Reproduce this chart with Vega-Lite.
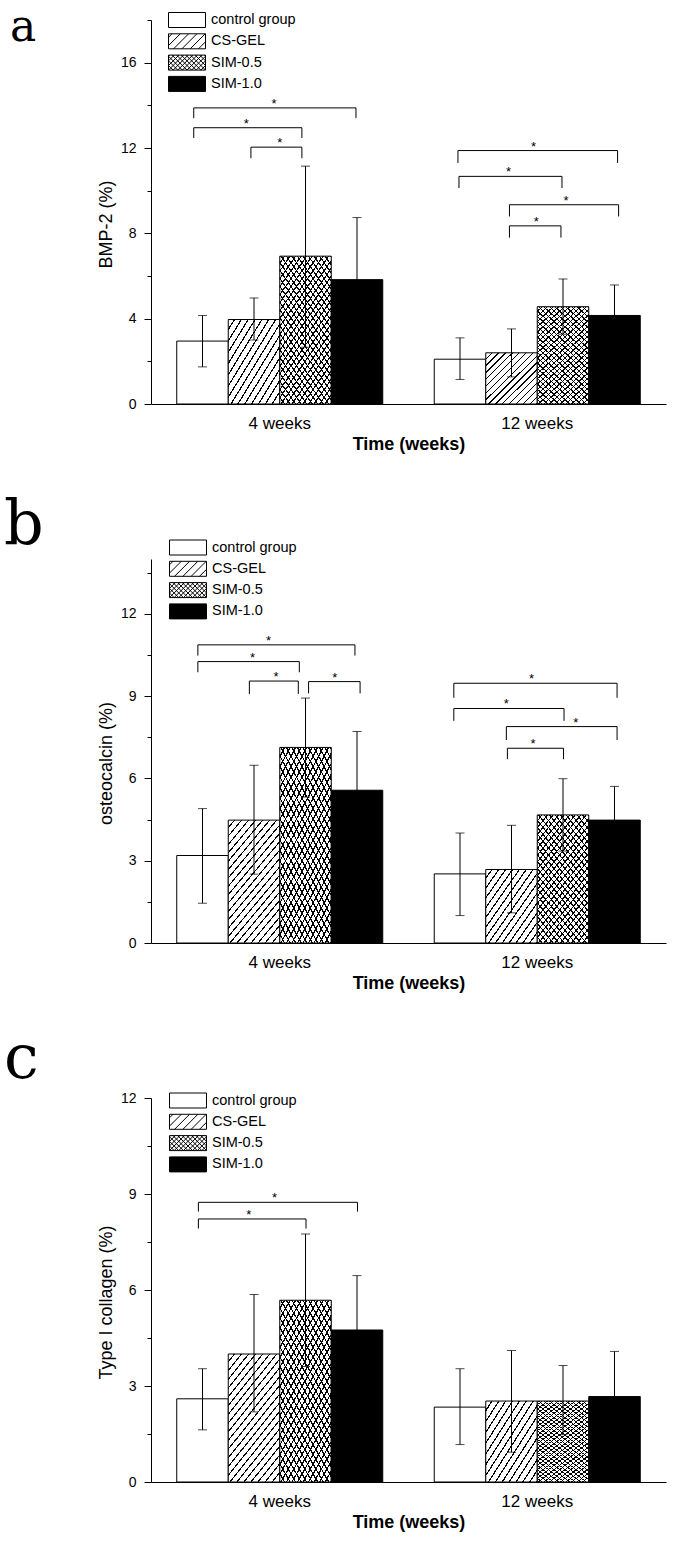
{
  "$schema": "https://vega.github.io/schema/vega-lite/v6.json",
  "padding": {"left": 4, "top": 5, "right": 5, "bottom": 5},
  "datasets": {
    "a": [
      {"time": "4 weeks", "group": "control group", "value": 2.95, "lo": 1.74, "hi": 4.15},
      {"time": "4 weeks", "group": "CS-GEL", "value": 3.96, "lo": 3.0, "hi": 4.97},
      {"time": "4 weeks", "group": "SIM-0.5", "value": 6.93, "lo": 2.66, "hi": 11.15},
      {"time": "4 weeks", "group": "SIM-1.0", "value": 5.83, "lo": 2.92, "hi": 8.74},
      {"time": "12 weeks", "group": "control group", "value": 2.1, "lo": 1.15, "hi": 3.1},
      {"time": "12 weeks", "group": "CS-GEL", "value": 2.4, "lo": 1.27, "hi": 3.52},
      {"time": "12 weeks", "group": "SIM-0.5", "value": 4.56, "lo": 3.27, "hi": 5.86},
      {"time": "12 weeks", "group": "SIM-1.0", "value": 4.15, "lo": 2.72, "hi": 5.58}
    ],
    "a_br": [
      {"b": "a1", "time": "4 weeks", "pos": 0.33, "y": 13.4, "k": 0},
      {"b": "a1", "time": "4 weeks", "pos": 0.33, "y": 13.88, "k": 1},
      {"b": "a1", "time": "4 weeks", "pos": 3.48, "y": 13.88, "k": 2},
      {"b": "a1", "time": "4 weeks", "pos": 3.48, "y": 13.4, "k": 3},
      {"b": "a2", "time": "4 weeks", "pos": 0.33, "y": 12.47, "k": 0},
      {"b": "a2", "time": "4 weeks", "pos": 0.33, "y": 12.95, "k": 1},
      {"b": "a2", "time": "4 weeks", "pos": 2.43, "y": 12.95, "k": 2},
      {"b": "a2", "time": "4 weeks", "pos": 2.43, "y": 12.47, "k": 3},
      {"b": "a3", "time": "4 weeks", "pos": 1.44, "y": 11.52, "k": 0},
      {"b": "a3", "time": "4 weeks", "pos": 1.44, "y": 12.04, "k": 1},
      {"b": "a3", "time": "4 weeks", "pos": 2.43, "y": 12.04, "k": 2},
      {"b": "a3", "time": "4 weeks", "pos": 2.43, "y": 11.52, "k": 3},
      {"b": "a4", "time": "12 weeks", "pos": 0.46, "y": 11.3, "k": 0},
      {"b": "a4", "time": "12 weeks", "pos": 0.46, "y": 11.88, "k": 1},
      {"b": "a4", "time": "12 weeks", "pos": 3.56, "y": 11.88, "k": 2},
      {"b": "a4", "time": "12 weeks", "pos": 3.56, "y": 11.3, "k": 3},
      {"b": "a5", "time": "12 weeks", "pos": 0.48, "y": 10.12, "k": 0},
      {"b": "a5", "time": "12 weeks", "pos": 0.48, "y": 10.67, "k": 1},
      {"b": "a5", "time": "12 weeks", "pos": 2.48, "y": 10.67, "k": 2},
      {"b": "a5", "time": "12 weeks", "pos": 2.48, "y": 10.12, "k": 3},
      {"b": "a6", "time": "12 weeks", "pos": 1.46, "y": 8.79, "k": 0},
      {"b": "a6", "time": "12 weeks", "pos": 1.46, "y": 9.34, "k": 1},
      {"b": "a6", "time": "12 weeks", "pos": 3.58, "y": 9.34, "k": 2},
      {"b": "a6", "time": "12 weeks", "pos": 3.58, "y": 8.79, "k": 3},
      {"b": "a7", "time": "12 weeks", "pos": 1.46, "y": 7.8, "k": 0},
      {"b": "a7", "time": "12 weeks", "pos": 1.46, "y": 8.35, "k": 1},
      {"b": "a7", "time": "12 weeks", "pos": 2.46, "y": 8.35, "k": 2},
      {"b": "a7", "time": "12 weeks", "pos": 2.46, "y": 7.8, "k": 3}
    ],
    "a_st": [
      {"time": "4 weeks", "pos": 1.89, "y": 13.88},
      {"time": "4 weeks", "pos": 1.35, "y": 12.95},
      {"time": "4 weeks", "pos": 2.0, "y": 12.04},
      {"time": "12 weeks", "pos": 1.93, "y": 11.88},
      {"time": "12 weeks", "pos": 1.44, "y": 10.67},
      {"time": "12 weeks", "pos": 2.56, "y": 9.34},
      {"time": "12 weeks", "pos": 1.98, "y": 8.35}
    ],
    "b": [
      {"time": "4 weeks", "group": "control group", "value": 3.19, "lo": 1.45, "hi": 4.9},
      {"time": "4 weeks", "group": "CS-GEL", "value": 4.48, "lo": 2.51, "hi": 6.48},
      {"time": "4 weeks", "group": "SIM-0.5", "value": 7.13, "lo": 5.32, "hi": 8.93},
      {"time": "4 weeks", "group": "SIM-1.0", "value": 5.57, "lo": 3.43, "hi": 7.71},
      {"time": "12 weeks", "group": "control group", "value": 2.52, "lo": 1.0, "hi": 4.01},
      {"time": "12 weeks", "group": "CS-GEL", "value": 2.68, "lo": 1.1, "hi": 4.29},
      {"time": "12 weeks", "group": "SIM-0.5", "value": 4.67, "lo": 3.35, "hi": 5.99},
      {"time": "12 weeks", "group": "SIM-1.0", "value": 4.48, "lo": 3.25, "hi": 5.71}
    ],
    "b_br": [
      {"b": "b1", "time": "4 weeks", "pos": 0.41, "y": 10.48, "k": 0},
      {"b": "b1", "time": "4 weeks", "pos": 0.41, "y": 10.87, "k": 1},
      {"b": "b1", "time": "4 weeks", "pos": 3.46, "y": 10.87, "k": 2},
      {"b": "b1", "time": "4 weeks", "pos": 3.46, "y": 10.48, "k": 3},
      {"b": "b2", "time": "4 weeks", "pos": 0.41, "y": 9.87, "k": 0},
      {"b": "b2", "time": "4 weeks", "pos": 0.41, "y": 10.26, "k": 1},
      {"b": "b2", "time": "4 weeks", "pos": 2.38, "y": 10.26, "k": 2},
      {"b": "b2", "time": "4 weeks", "pos": 2.38, "y": 9.87, "k": 3},
      {"b": "b3", "time": "4 weeks", "pos": 1.41, "y": 9.08, "k": 0},
      {"b": "b3", "time": "4 weeks", "pos": 1.41, "y": 9.55, "k": 1},
      {"b": "b3", "time": "4 weeks", "pos": 2.36, "y": 9.55, "k": 2},
      {"b": "b3", "time": "4 weeks", "pos": 2.36, "y": 9.08, "k": 3},
      {"b": "b4", "time": "4 weeks", "pos": 2.56, "y": 9.1, "k": 0},
      {"b": "b4", "time": "4 weeks", "pos": 2.56, "y": 9.53, "k": 1},
      {"b": "b4", "time": "4 weeks", "pos": 3.56, "y": 9.53, "k": 2},
      {"b": "b4", "time": "4 weeks", "pos": 3.56, "y": 9.1, "k": 3},
      {"b": "b5", "time": "12 weeks", "pos": 0.38, "y": 8.94, "k": 0},
      {"b": "b5", "time": "12 weeks", "pos": 0.38, "y": 9.47, "k": 1},
      {"b": "b5", "time": "12 weeks", "pos": 3.55, "y": 9.47, "k": 2},
      {"b": "b5", "time": "12 weeks", "pos": 3.55, "y": 8.94, "k": 3},
      {"b": "b6", "time": "12 weeks", "pos": 0.38, "y": 8.1, "k": 0},
      {"b": "b6", "time": "12 weeks", "pos": 0.38, "y": 8.55, "k": 1},
      {"b": "b6", "time": "12 weeks", "pos": 2.52, "y": 8.55, "k": 2},
      {"b": "b6", "time": "12 weeks", "pos": 2.52, "y": 8.1, "k": 3},
      {"b": "b7", "time": "12 weeks", "pos": 1.4, "y": 7.4, "k": 0},
      {"b": "b7", "time": "12 weeks", "pos": 1.4, "y": 7.89, "k": 1},
      {"b": "b7", "time": "12 weeks", "pos": 3.55, "y": 7.89, "k": 2},
      {"b": "b7", "time": "12 weeks", "pos": 3.55, "y": 7.4, "k": 3},
      {"b": "b8", "time": "12 weeks", "pos": 1.42, "y": 6.7, "k": 0},
      {"b": "b8", "time": "12 weeks", "pos": 1.42, "y": 7.1, "k": 1},
      {"b": "b8", "time": "12 weeks", "pos": 2.51, "y": 7.1, "k": 2},
      {"b": "b8", "time": "12 weeks", "pos": 2.51, "y": 6.7, "k": 3}
    ],
    "b_st": [
      {"time": "4 weeks", "pos": 1.78, "y": 10.87},
      {"time": "4 weeks", "pos": 1.47, "y": 10.26},
      {"time": "4 weeks", "pos": 1.93, "y": 9.55},
      {"time": "4 weeks", "pos": 3.07, "y": 9.53},
      {"time": "12 weeks", "pos": 1.89, "y": 9.47},
      {"time": "12 weeks", "pos": 1.4, "y": 8.55},
      {"time": "12 weeks", "pos": 2.75, "y": 7.89},
      {"time": "12 weeks", "pos": 1.92, "y": 7.1}
    ],
    "c": [
      {"time": "4 weeks", "group": "control group", "value": 2.6, "lo": 1.63, "hi": 3.54},
      {"time": "4 weeks", "group": "CS-GEL", "value": 4.0, "lo": 2.19, "hi": 5.86},
      {"time": "4 weeks", "group": "SIM-0.5", "value": 5.68, "lo": 3.61, "hi": 7.75},
      {"time": "4 weeks", "group": "SIM-1.0", "value": 4.75, "lo": 3.05, "hi": 6.45},
      {"time": "12 weeks", "group": "control group", "value": 2.34, "lo": 1.17, "hi": 3.54},
      {"time": "12 weeks", "group": "CS-GEL", "value": 2.53, "lo": 0.93, "hi": 4.11},
      {"time": "12 weeks", "group": "SIM-0.5", "value": 2.53, "lo": 1.48, "hi": 3.64},
      {"time": "12 weeks", "group": "SIM-1.0", "value": 2.67, "lo": 1.26, "hi": 4.08}
    ],
    "c_br": [
      {"b": "c1", "time": "4 weeks", "pos": 0.42, "y": 8.45, "k": 0},
      {"b": "c1", "time": "4 weeks", "pos": 0.42, "y": 8.74, "k": 1},
      {"b": "c1", "time": "4 weeks", "pos": 3.51, "y": 8.74, "k": 2},
      {"b": "c1", "time": "4 weeks", "pos": 3.51, "y": 8.45, "k": 3},
      {"b": "c2", "time": "4 weeks", "pos": 0.42, "y": 7.92, "k": 0},
      {"b": "c2", "time": "4 weeks", "pos": 0.42, "y": 8.22, "k": 1},
      {"b": "c2", "time": "4 weeks", "pos": 2.51, "y": 8.22, "k": 2},
      {"b": "c2", "time": "4 weeks", "pos": 2.51, "y": 7.92, "k": 3}
    ],
    "c_st": [
      {"time": "4 weeks", "pos": 1.9, "y": 8.74},
      {"time": "4 weeks", "pos": 1.4, "y": 8.22}
    ]
  },
  "vconcat": [
    {
      "title": {"text": "a", "dx": -141, "dy": 41.5, "fontSize": 44},
      "width": 515,
      "height": 384,
      "resolve": {"scale": {"xOffset": "independent"}},
      "layer": [
        {
          "data": {"name": "a"},
          "mark": {"type": "bar", "stroke": "black", "strokeWidth": 1},
          "encoding": {
            "x": {"field": "time", "type": "nominal", "sort": ["4 weeks", "12 weeks"], "scale": {"paddingInner": 0.2, "paddingOuter": 0.1}, "title": "Time (weeks)", "axis": {"labelAngle": 0, "ticks": false, "tickSize": 0}},
            "xOffset": {"field": "group", "type": "nominal", "scale": {"domain": ["control group", "CS-GEL", "SIM-0.5", "SIM-1.0"], "paddingInner": 0, "paddingOuter": 0}},
            "y": {"field": "value", "type": "quantitative", "scale": {"domain": [0, 18], "nice": false}, "title": "BMP-2 (%)", "axis": {"values": [0, 2, 4, 6, 8, 10, 12, 14, 16, 18], "labelExpr": "datum.value % 4 === 0 ? datum.label : ''", "tickSize": {"condition": {"test": "datum.value % 4 === 0", "value": 7}, "value": 4}, "titleY": 204}},
            "fill": {"condition": {"test": "datum.group === 'SIM-1.0'", "value": "black"}, "value": "white"}
          }
        },
        {
          "data": {"name": "a"},
          "transform": [{"filter": "datum.group === 'CS-GEL'"}],
          "mark": {"type": "bar", "style": "hatchS"},
          "encoding": {
            "x": {"field": "time", "type": "nominal", "sort": ["4 weeks", "12 weeks"]},
            "xOffset": {"field": "group", "type": "nominal", "scale": {"domain": ["control group", "CS-GEL", "SIM-0.5", "SIM-1.0"], "paddingInner": 0, "paddingOuter": 0}},
            "y": {"field": "value", "type": "quantitative", "scale": {"domain": [0, 18], "nice": false}}
          }
        },
        {
          "data": {"name": "a"},
          "transform": [{"filter": "datum.group === 'SIM-0.5'"}],
          "mark": {"type": "bar", "style": "crossa"},
          "encoding": {
            "x": {"field": "time", "type": "nominal", "sort": ["4 weeks", "12 weeks"]},
            "xOffset": {"field": "group", "type": "nominal", "scale": {"domain": ["control group", "CS-GEL", "SIM-0.5", "SIM-1.0"], "paddingInner": 0, "paddingOuter": 0}},
            "y": {"field": "value", "type": "quantitative", "scale": {"domain": [0, 18], "nice": false}}
          }
        },
        {
          "data": {"name": "a"},
          "transform": [{"filter": "datum.group === 'SIM-0.5'"}],
          "mark": {"type": "bar", "style": "crossb"},
          "encoding": {
            "x": {"field": "time", "type": "nominal", "sort": ["4 weeks", "12 weeks"]},
            "xOffset": {"field": "group", "type": "nominal", "scale": {"domain": ["control group", "CS-GEL", "SIM-0.5", "SIM-1.0"], "paddingInner": 0, "paddingOuter": 0}},
            "y": {"field": "value", "type": "quantitative", "scale": {"domain": [0, 18], "nice": false}}
          }
        },
        {
          "data": {"name": "a"},
          "mark": {"type": "rule", "color": "black", "strokeWidth": 1},
          "encoding": {
            "x": {"field": "time", "type": "nominal", "sort": ["4 weeks", "12 weeks"]},
            "xOffset": {"field": "group", "type": "nominal", "scale": {"domain": ["control group", "CS-GEL", "SIM-0.5", "SIM-1.0"], "paddingInner": 0, "paddingOuter": 0}},
            "y": {"field": "lo", "type": "quantitative", "scale": {"domain": [0, 18], "nice": false}},
            "y2": {"field": "hi"}
          }
        },
        {
          "data": {"name": "a"},
          "mark": {"type": "tick", "orient": "horizontal", "color": "black", "size": 9, "thickness": 1},
          "encoding": {
            "x": {"field": "time", "type": "nominal", "sort": ["4 weeks", "12 weeks"]},
            "xOffset": {"field": "group", "type": "nominal", "scale": {"domain": ["control group", "CS-GEL", "SIM-0.5", "SIM-1.0"], "paddingInner": 0, "paddingOuter": 0}},
            "y": {"field": "hi", "type": "quantitative", "scale": {"domain": [0, 18], "nice": false}}
          }
        },
        {
          "data": {"name": "a"},
          "mark": {"type": "tick", "orient": "horizontal", "color": "black", "size": 9, "thickness": 1},
          "encoding": {
            "x": {"field": "time", "type": "nominal", "sort": ["4 weeks", "12 weeks"]},
            "xOffset": {"field": "group", "type": "nominal", "scale": {"domain": ["control group", "CS-GEL", "SIM-0.5", "SIM-1.0"], "paddingInner": 0, "paddingOuter": 0}},
            "y": {"field": "lo", "type": "quantitative", "scale": {"domain": [0, 18], "nice": false}}
          }
        },
        {
          "data": {"name": "a_br"},
          "mark": {"type": "line", "color": "black", "strokeWidth": 1},
          "encoding": {
            "x": {"field": "time", "type": "nominal", "sort": ["4 weeks", "12 weeks"]},
            "xOffset": {"field": "pos", "type": "quantitative", "scale": {"domain": [0, 4], "nice": false, "zero": false}},
            "y": {"field": "y", "type": "quantitative", "scale": {"domain": [0, 18], "nice": false}},
            "detail": {"field": "b"},
            "order": {"field": "k"}
          }
        },
        {
          "data": {"name": "a_st"},
          "mark": {"type": "text", "text": "*", "fontSize": 13, "font": "Liberation Sans", "baseline": "alphabetic", "color": "black"},
          "encoding": {
            "x": {"field": "time", "type": "nominal", "sort": ["4 weeks", "12 weeks"]},
            "xOffset": {"field": "pos", "type": "quantitative", "scale": {"domain": [0, 4], "nice": false, "zero": false}},
            "y": {"field": "y", "type": "quantitative", "scale": {"domain": [0, 18], "nice": false}}
          }
        },
        {
          "data": {"name": "a"},
          "mark": {"type": "point", "filled": true, "opacity": 0, "stroke": "black", "strokeWidth": 1},
          "encoding": {
            "x": {"field": "time", "type": "nominal", "sort": ["4 weeks", "12 weeks"]},
            "xOffset": {"field": "group", "type": "nominal", "scale": {"domain": ["control group", "CS-GEL", "SIM-0.5", "SIM-1.0"], "paddingInner": 0, "paddingOuter": 0}},
            "y": {"field": "value", "type": "quantitative", "scale": {"domain": [0, 18], "nice": false}},
            "fill": {"field": "group", "type": "nominal", "scale": {"domain": ["control group", "CS-GEL", "SIM-0.5", "SIM-1.0"], "range": ["white", "white", "white", "black"]}, "legend": {"orient": "none", "legendX": 28, "legendY": -8, "title": null, "symbolFillColor": "white"}},
            "shape": {"field": "group", "type": "nominal", "scale": {"domain": ["control group", "CS-GEL", "SIM-0.5", "SIM-1.0"], "range": ["M-2.4667,-1H2.4667V1H-2.4667Z", "M-2.4667,-1H2.4667V1H-2.4667Z M-2.4667,-0.5333L-2,-1 M-2.4667,0.5733L-0.8933,-1 M-1.7867,1L0.2133,-1 M-0.68,1L1.32,-1 M0.4267,1L2.4267,-1 M1.5333,1L2.4667,0.0667", "M-2.4667,-1H2.4667V1H-2.4667Z M-2.4667,-0.85L-2.3167,-1 M-2.4667,-0.2333L-1.7,-1 M-2.4667,0.3833L-1.0833,-1 M-2.4667,1L-0.4667,-1 M-1.85,1L0.15,-1 M-1.2333,1L0.7667,-1 M-0.6167,1L1.3833,-1 M0,1L2,-1 M0.6167,1L2.4667,-0.85 M1.2333,1L2.4667,-0.2333 M1.85,1L2.4667,0.3833 M2.4667,-0.85L2.3167,-1 M2.4667,-0.2333L1.7,-1 M2.4667,0.3833L1.0833,-1 M2.4667,1L0.4667,-1 M1.85,1L-0.15,-1 M1.2333,1L-0.7667,-1 M0.6167,1L-1.3833,-1 M0,1L-2,-1 M-0.6167,1L-2.4667,-0.85 M-1.2333,1L-2.4667,-0.2333 M-1.85,1L-2.4667,0.3833", "M-2.4667,-1H2.4667V1H-2.4667Z"]}, "legend": {"orient": "none", "legendX": 28, "legendY": -8, "title": null, "symbolFillColor": "white"}}
          }
        }
      ]
    },
    {
      "title": {"text": "b", "dx": -147, "dy": 21.5},
      "width": 515,
      "height": 384,
      "resolve": {"scale": {"xOffset": "independent"}},
      "layer": [
        {
          "data": {"name": "b"},
          "mark": {"type": "bar", "stroke": "black", "strokeWidth": 1},
          "encoding": {
            "x": {"field": "time", "type": "nominal", "sort": ["4 weeks", "12 weeks"], "scale": {"paddingInner": 0.2, "paddingOuter": 0.1}, "title": "Time (weeks)", "axis": {"labelAngle": 0, "ticks": false, "tickSize": 0}},
            "xOffset": {"field": "group", "type": "nominal", "scale": {"domain": ["control group", "CS-GEL", "SIM-0.5", "SIM-1.0"], "paddingInner": 0, "paddingOuter": 0}},
            "y": {"field": "value", "type": "quantitative", "scale": {"domain": [0, 14], "nice": false}, "title": "osteocalcin (%)", "axis": {"values": [0, 1.5, 3, 4.5, 6, 7.5, 9, 10.5, 12, 13.5], "labelExpr": "datum.value % 3 === 0 ? datum.label : ''", "tickSize": {"condition": {"test": "datum.value % 3 === 0", "value": 7}, "value": 4}, "titleY": 204}},
            "fill": {"condition": {"test": "datum.group === 'SIM-1.0'", "value": "black"}, "value": "white"}
          }
        },
        {
          "data": {"name": "b"},
          "transform": [{"filter": "datum.group === 'CS-GEL' && datum.value < 3.5"}],
          "mark": {"type": "bar", "style": "hatchS"},
          "encoding": {
            "x": {"field": "time", "type": "nominal", "sort": ["4 weeks", "12 weeks"]},
            "xOffset": {"field": "group", "type": "nominal", "scale": {"domain": ["control group", "CS-GEL", "SIM-0.5", "SIM-1.0"], "paddingInner": 0, "paddingOuter": 0}},
            "y": {"field": "value", "type": "quantitative", "scale": {"domain": [0, 14], "nice": false}}
          }
        },
        {
          "data": {"name": "b"},
          "transform": [{"filter": "datum.group === 'CS-GEL' && datum.value >= 3.5"}],
          "mark": {"type": "bar", "style": "hatch"},
          "encoding": {
            "x": {"field": "time", "type": "nominal", "sort": ["4 weeks", "12 weeks"]},
            "xOffset": {"field": "group", "type": "nominal", "scale": {"domain": ["control group", "CS-GEL", "SIM-0.5", "SIM-1.0"], "paddingInner": 0, "paddingOuter": 0}},
            "y": {"field": "value", "type": "quantitative", "scale": {"domain": [0, 14], "nice": false}}
          }
        },
        {
          "data": {"name": "b"},
          "transform": [{"filter": "datum.group === 'SIM-0.5'"}],
          "mark": {"type": "bar", "style": "crossa"},
          "encoding": {
            "x": {"field": "time", "type": "nominal", "sort": ["4 weeks", "12 weeks"]},
            "xOffset": {"field": "group", "type": "nominal", "scale": {"domain": ["control group", "CS-GEL", "SIM-0.5", "SIM-1.0"], "paddingInner": 0, "paddingOuter": 0}},
            "y": {"field": "value", "type": "quantitative", "scale": {"domain": [0, 14], "nice": false}}
          }
        },
        {
          "data": {"name": "b"},
          "transform": [{"filter": "datum.group === 'SIM-0.5'"}],
          "mark": {"type": "bar", "style": "crossb"},
          "encoding": {
            "x": {"field": "time", "type": "nominal", "sort": ["4 weeks", "12 weeks"]},
            "xOffset": {"field": "group", "type": "nominal", "scale": {"domain": ["control group", "CS-GEL", "SIM-0.5", "SIM-1.0"], "paddingInner": 0, "paddingOuter": 0}},
            "y": {"field": "value", "type": "quantitative", "scale": {"domain": [0, 14], "nice": false}}
          }
        },
        {
          "data": {"name": "b"},
          "mark": {"type": "rule", "color": "black", "strokeWidth": 1},
          "encoding": {
            "x": {"field": "time", "type": "nominal", "sort": ["4 weeks", "12 weeks"]},
            "xOffset": {"field": "group", "type": "nominal", "scale": {"domain": ["control group", "CS-GEL", "SIM-0.5", "SIM-1.0"], "paddingInner": 0, "paddingOuter": 0}},
            "y": {"field": "lo", "type": "quantitative", "scale": {"domain": [0, 14], "nice": false}},
            "y2": {"field": "hi"}
          }
        },
        {
          "data": {"name": "b"},
          "mark": {"type": "tick", "orient": "horizontal", "color": "black", "size": 9, "thickness": 1},
          "encoding": {
            "x": {"field": "time", "type": "nominal", "sort": ["4 weeks", "12 weeks"]},
            "xOffset": {"field": "group", "type": "nominal", "scale": {"domain": ["control group", "CS-GEL", "SIM-0.5", "SIM-1.0"], "paddingInner": 0, "paddingOuter": 0}},
            "y": {"field": "hi", "type": "quantitative", "scale": {"domain": [0, 14], "nice": false}}
          }
        },
        {
          "data": {"name": "b"},
          "mark": {"type": "tick", "orient": "horizontal", "color": "black", "size": 9, "thickness": 1},
          "encoding": {
            "x": {"field": "time", "type": "nominal", "sort": ["4 weeks", "12 weeks"]},
            "xOffset": {"field": "group", "type": "nominal", "scale": {"domain": ["control group", "CS-GEL", "SIM-0.5", "SIM-1.0"], "paddingInner": 0, "paddingOuter": 0}},
            "y": {"field": "lo", "type": "quantitative", "scale": {"domain": [0, 14], "nice": false}}
          }
        },
        {
          "data": {"name": "b_br"},
          "mark": {"type": "line", "color": "black", "strokeWidth": 1},
          "encoding": {
            "x": {"field": "time", "type": "nominal", "sort": ["4 weeks", "12 weeks"]},
            "xOffset": {"field": "pos", "type": "quantitative", "scale": {"domain": [0, 4], "nice": false, "zero": false}},
            "y": {"field": "y", "type": "quantitative", "scale": {"domain": [0, 14], "nice": false}},
            "detail": {"field": "b"},
            "order": {"field": "k"}
          }
        },
        {
          "data": {"name": "b_st"},
          "mark": {"type": "text", "text": "*", "fontSize": 13, "font": "Liberation Sans", "baseline": "alphabetic", "color": "black"},
          "encoding": {
            "x": {"field": "time", "type": "nominal", "sort": ["4 weeks", "12 weeks"]},
            "xOffset": {"field": "pos", "type": "quantitative", "scale": {"domain": [0, 4], "nice": false, "zero": false}},
            "y": {"field": "y", "type": "quantitative", "scale": {"domain": [0, 14], "nice": false}}
          }
        },
        {
          "data": {"name": "b"},
          "mark": {"type": "point", "filled": true, "opacity": 0, "stroke": "black", "strokeWidth": 1},
          "encoding": {
            "x": {"field": "time", "type": "nominal", "sort": ["4 weeks", "12 weeks"]},
            "xOffset": {"field": "group", "type": "nominal", "scale": {"domain": ["control group", "CS-GEL", "SIM-0.5", "SIM-1.0"], "paddingInner": 0, "paddingOuter": 0}},
            "y": {"field": "value", "type": "quantitative", "scale": {"domain": [0, 14], "nice": false}},
            "fill": {"field": "group", "type": "nominal", "scale": {"domain": ["control group", "CS-GEL", "SIM-0.5", "SIM-1.0"], "range": ["white", "white", "white", "black"]}, "legend": {"orient": "none", "legendX": 29, "legendY": -19.5, "title": null, "symbolFillColor": "white"}},
            "shape": {"field": "group", "type": "nominal", "scale": {"domain": ["control group", "CS-GEL", "SIM-0.5", "SIM-1.0"], "range": ["M-2.4667,-1H2.4667V1H-2.4667Z", "M-2.4667,-1H2.4667V1H-2.4667Z M-2.4667,-0.5333L-2,-1 M-2.4667,0.5733L-0.8933,-1 M-1.7867,1L0.2133,-1 M-0.68,1L1.32,-1 M0.4267,1L2.4267,-1 M1.5333,1L2.4667,0.0667", "M-2.4667,-1H2.4667V1H-2.4667Z M-2.4667,-0.85L-2.3167,-1 M-2.4667,-0.2333L-1.7,-1 M-2.4667,0.3833L-1.0833,-1 M-2.4667,1L-0.4667,-1 M-1.85,1L0.15,-1 M-1.2333,1L0.7667,-1 M-0.6167,1L1.3833,-1 M0,1L2,-1 M0.6167,1L2.4667,-0.85 M1.2333,1L2.4667,-0.2333 M1.85,1L2.4667,0.3833 M2.4667,-0.85L2.3167,-1 M2.4667,-0.2333L1.7,-1 M2.4667,0.3833L1.0833,-1 M2.4667,1L0.4667,-1 M1.85,1L-0.15,-1 M1.2333,1L-0.7667,-1 M0.6167,1L-1.3833,-1 M0,1L-2,-1 M-0.6167,1L-2.4667,-0.85 M-1.2333,1L-2.4667,-0.2333 M-1.85,1L-2.4667,0.3833", "M-2.4667,-1H2.4667V1H-2.4667Z"]}, "legend": {"orient": "none", "legendX": 29, "legendY": -19.5, "title": null, "symbolFillColor": "white"}}
          }
        }
      ]
    },
    {
      "title": {"text": "c", "dx": -147, "dy": 4},
      "width": 515,
      "height": 384,
      "resolve": {"scale": {"xOffset": "independent"}},
      "layer": [
        {
          "data": {"name": "c"},
          "mark": {"type": "bar", "stroke": "black", "strokeWidth": 1},
          "encoding": {
            "x": {"field": "time", "type": "nominal", "sort": ["4 weeks", "12 weeks"], "scale": {"paddingInner": 0.2, "paddingOuter": 0.1}, "title": "Time (weeks)", "axis": {"labelAngle": 0, "ticks": false, "tickSize": 0}},
            "xOffset": {"field": "group", "type": "nominal", "scale": {"domain": ["control group", "CS-GEL", "SIM-0.5", "SIM-1.0"], "paddingInner": 0, "paddingOuter": 0}},
            "y": {"field": "value", "type": "quantitative", "scale": {"domain": [0, 12], "nice": false}, "title": "Type I collagen (%)", "axis": {"values": [0, 1.5, 3, 4.5, 6, 7.5, 9, 10.5, 12], "labelExpr": "datum.value % 3 === 0 ? datum.label : ''", "tickSize": {"condition": {"test": "datum.value % 3 === 0", "value": 7}, "value": 4}, "titleY": 204}},
            "fill": {"condition": {"test": "datum.group === 'SIM-1.0'", "value": "black"}, "value": "white"}
          }
        },
        {
          "data": {"name": "c"},
          "transform": [{"filter": "datum.group === 'CS-GEL' && datum.value < 3.5"}],
          "mark": {"type": "bar", "style": "hatchS"},
          "encoding": {
            "x": {"field": "time", "type": "nominal", "sort": ["4 weeks", "12 weeks"]},
            "xOffset": {"field": "group", "type": "nominal", "scale": {"domain": ["control group", "CS-GEL", "SIM-0.5", "SIM-1.0"], "paddingInner": 0, "paddingOuter": 0}},
            "y": {"field": "value", "type": "quantitative", "scale": {"domain": [0, 12], "nice": false}}
          }
        },
        {
          "data": {"name": "c"},
          "transform": [{"filter": "datum.group === 'CS-GEL' && datum.value >= 3.5"}],
          "mark": {"type": "bar", "style": "hatch"},
          "encoding": {
            "x": {"field": "time", "type": "nominal", "sort": ["4 weeks", "12 weeks"]},
            "xOffset": {"field": "group", "type": "nominal", "scale": {"domain": ["control group", "CS-GEL", "SIM-0.5", "SIM-1.0"], "paddingInner": 0, "paddingOuter": 0}},
            "y": {"field": "value", "type": "quantitative", "scale": {"domain": [0, 12], "nice": false}}
          }
        },
        {
          "data": {"name": "c"},
          "transform": [{"filter": "datum.group === 'SIM-0.5'"}],
          "mark": {"type": "bar", "style": "crossa"},
          "encoding": {
            "x": {"field": "time", "type": "nominal", "sort": ["4 weeks", "12 weeks"]},
            "xOffset": {"field": "group", "type": "nominal", "scale": {"domain": ["control group", "CS-GEL", "SIM-0.5", "SIM-1.0"], "paddingInner": 0, "paddingOuter": 0}},
            "y": {"field": "value", "type": "quantitative", "scale": {"domain": [0, 12], "nice": false}}
          }
        },
        {
          "data": {"name": "c"},
          "transform": [{"filter": "datum.group === 'SIM-0.5'"}],
          "mark": {"type": "bar", "style": "crossb"},
          "encoding": {
            "x": {"field": "time", "type": "nominal", "sort": ["4 weeks", "12 weeks"]},
            "xOffset": {"field": "group", "type": "nominal", "scale": {"domain": ["control group", "CS-GEL", "SIM-0.5", "SIM-1.0"], "paddingInner": 0, "paddingOuter": 0}},
            "y": {"field": "value", "type": "quantitative", "scale": {"domain": [0, 12], "nice": false}}
          }
        },
        {
          "data": {"name": "c"},
          "mark": {"type": "rule", "color": "black", "strokeWidth": 1},
          "encoding": {
            "x": {"field": "time", "type": "nominal", "sort": ["4 weeks", "12 weeks"]},
            "xOffset": {"field": "group", "type": "nominal", "scale": {"domain": ["control group", "CS-GEL", "SIM-0.5", "SIM-1.0"], "paddingInner": 0, "paddingOuter": 0}},
            "y": {"field": "lo", "type": "quantitative", "scale": {"domain": [0, 12], "nice": false}},
            "y2": {"field": "hi"}
          }
        },
        {
          "data": {"name": "c"},
          "mark": {"type": "tick", "orient": "horizontal", "color": "black", "size": 9, "thickness": 1},
          "encoding": {
            "x": {"field": "time", "type": "nominal", "sort": ["4 weeks", "12 weeks"]},
            "xOffset": {"field": "group", "type": "nominal", "scale": {"domain": ["control group", "CS-GEL", "SIM-0.5", "SIM-1.0"], "paddingInner": 0, "paddingOuter": 0}},
            "y": {"field": "hi", "type": "quantitative", "scale": {"domain": [0, 12], "nice": false}}
          }
        },
        {
          "data": {"name": "c"},
          "mark": {"type": "tick", "orient": "horizontal", "color": "black", "size": 9, "thickness": 1},
          "encoding": {
            "x": {"field": "time", "type": "nominal", "sort": ["4 weeks", "12 weeks"]},
            "xOffset": {"field": "group", "type": "nominal", "scale": {"domain": ["control group", "CS-GEL", "SIM-0.5", "SIM-1.0"], "paddingInner": 0, "paddingOuter": 0}},
            "y": {"field": "lo", "type": "quantitative", "scale": {"domain": [0, 12], "nice": false}}
          }
        },
        {
          "data": {"name": "c_br"},
          "mark": {"type": "line", "color": "black", "strokeWidth": 1},
          "encoding": {
            "x": {"field": "time", "type": "nominal", "sort": ["4 weeks", "12 weeks"]},
            "xOffset": {"field": "pos", "type": "quantitative", "scale": {"domain": [0, 4], "nice": false, "zero": false}},
            "y": {"field": "y", "type": "quantitative", "scale": {"domain": [0, 12], "nice": false}},
            "detail": {"field": "b"},
            "order": {"field": "k"}
          }
        },
        {
          "data": {"name": "c_st"},
          "mark": {"type": "text", "text": "*", "fontSize": 13, "font": "Liberation Sans", "baseline": "alphabetic", "color": "black"},
          "encoding": {
            "x": {"field": "time", "type": "nominal", "sort": ["4 weeks", "12 weeks"]},
            "xOffset": {"field": "pos", "type": "quantitative", "scale": {"domain": [0, 4], "nice": false, "zero": false}},
            "y": {"field": "y", "type": "quantitative", "scale": {"domain": [0, 12], "nice": false}}
          }
        },
        {
          "data": {"name": "c"},
          "mark": {"type": "point", "filled": true, "opacity": 0, "stroke": "black", "strokeWidth": 1},
          "encoding": {
            "x": {"field": "time", "type": "nominal", "sort": ["4 weeks", "12 weeks"]},
            "xOffset": {"field": "group", "type": "nominal", "scale": {"domain": ["control group", "CS-GEL", "SIM-0.5", "SIM-1.0"], "paddingInner": 0, "paddingOuter": 0}},
            "y": {"field": "value", "type": "quantitative", "scale": {"domain": [0, 12], "nice": false}},
            "fill": {"field": "group", "type": "nominal", "scale": {"domain": ["control group", "CS-GEL", "SIM-0.5", "SIM-1.0"], "range": ["white", "white", "white", "black"]}, "legend": {"orient": "none", "legendX": 29, "legendY": -5.5, "title": null, "symbolFillColor": "white"}},
            "shape": {"field": "group", "type": "nominal", "scale": {"domain": ["control group", "CS-GEL", "SIM-0.5", "SIM-1.0"], "range": ["M-2.4667,-1H2.4667V1H-2.4667Z", "M-2.4667,-1H2.4667V1H-2.4667Z M-2.4667,-0.5333L-2,-1 M-2.4667,0.5733L-0.8933,-1 M-1.7867,1L0.2133,-1 M-0.68,1L1.32,-1 M0.4267,1L2.4267,-1 M1.5333,1L2.4667,0.0667", "M-2.4667,-1H2.4667V1H-2.4667Z M-2.4667,-0.85L-2.3167,-1 M-2.4667,-0.2333L-1.7,-1 M-2.4667,0.3833L-1.0833,-1 M-2.4667,1L-0.4667,-1 M-1.85,1L0.15,-1 M-1.2333,1L0.7667,-1 M-0.6167,1L1.3833,-1 M0,1L2,-1 M0.6167,1L2.4667,-0.85 M1.2333,1L2.4667,-0.2333 M1.85,1L2.4667,0.3833 M2.4667,-0.85L2.3167,-1 M2.4667,-0.2333L1.7,-1 M2.4667,0.3833L1.0833,-1 M2.4667,1L0.4667,-1 M1.85,1L-0.15,-1 M1.2333,1L-0.7667,-1 M0.6167,1L-1.3833,-1 M0,1L-2,-1 M-0.6167,1L-2.4667,-0.85 M-1.2333,1L-2.4667,-0.2333 M-1.85,1L-2.4667,0.3833", "M-2.4667,-1H2.4667V1H-2.4667Z"]}, "legend": {"orient": "none", "legendX": 29, "legendY": -5.5, "title": null, "symbolFillColor": "white"}}
          }
        }
      ]
    }
  ],
  "spacing": 155,
  "bounds": "flush",
  "resolve": {"scale": {"fill": "independent", "shape": "independent"}, "legend": {"fill": "independent", "shape": "independent"}},
  "config": {
    "background": "white",
    "view": {"stroke": null},
    "font": "Liberation Sans",
    "axis": {"grid": false, "domainColor": "black", "tickColor": "black", "labelColor": "black", "titleColor": "black", "labelFont": "Liberation Sans", "titleFont": "Liberation Sans", "domainWidth": 1, "tickWidth": 1},
    "axisX": {"labelFontSize": 17, "labelPadding": 11, "titleFontSize": 18, "titleFontWeight": "bold", "titlePadding": 4},
    "axisY": {"labelFontSize": 14, "labelPadding": 8, "titleFontSize": 18, "titleFontWeight": "normal", "titlePadding": 5},
    "legend": {"labelFont": "Liberation Sans", "labelFontSize": 14.5, "labelColor": "black", "symbolSize": 225, "symbolStrokeWidth": 1, "symbolStrokeColor": "black", "labelOffset": 16, "rowPadding": 1.3, "padding": 0},
    "title": {"font": "DejaVu Serif", "fontSize": 62, "fontWeight": "normal", "anchor": "start", "frame": "group", "baseline": "alphabetic", "offset": 0, "color": "black"},
    "style": {
      "hatchS": {"color": {"gradient": "linear", "x1": 0, "y1": 0, "x2": 1, "y2": 1, "stops": [
        {"offset": 0, "color": "rgba(0,0,0,0)"}, {"offset": 0.0533, "color": "rgba(0,0,0,0)"}, {"offset": 0.0533, "color": "#000"}, {"offset": 0.0667, "color": "#000"},
        {"offset": 0.0667, "color": "rgba(0,0,0,0)"}, {"offset": 0.12, "color": "rgba(0,0,0,0)"}, {"offset": 0.12, "color": "#000"}, {"offset": 0.1333, "color": "#000"},
        {"offset": 0.1333, "color": "rgba(0,0,0,0)"}, {"offset": 0.1867, "color": "rgba(0,0,0,0)"}, {"offset": 0.1867, "color": "#000"}, {"offset": 0.2, "color": "#000"},
        {"offset": 0.2, "color": "rgba(0,0,0,0)"}, {"offset": 0.2533, "color": "rgba(0,0,0,0)"}, {"offset": 0.2533, "color": "#000"}, {"offset": 0.2667, "color": "#000"},
        {"offset": 0.2667, "color": "rgba(0,0,0,0)"}, {"offset": 0.32, "color": "rgba(0,0,0,0)"}, {"offset": 0.32, "color": "#000"}, {"offset": 0.3333, "color": "#000"},
        {"offset": 0.3333, "color": "rgba(0,0,0,0)"}, {"offset": 0.3867, "color": "rgba(0,0,0,0)"}, {"offset": 0.3867, "color": "#000"}, {"offset": 0.4, "color": "#000"},
        {"offset": 0.4, "color": "rgba(0,0,0,0)"}, {"offset": 0.4533, "color": "rgba(0,0,0,0)"}, {"offset": 0.4533, "color": "#000"}, {"offset": 0.4667, "color": "#000"},
        {"offset": 0.4667, "color": "rgba(0,0,0,0)"}, {"offset": 0.52, "color": "rgba(0,0,0,0)"}, {"offset": 0.52, "color": "#000"}, {"offset": 0.5333, "color": "#000"},
        {"offset": 0.5333, "color": "rgba(0,0,0,0)"}, {"offset": 0.5867, "color": "rgba(0,0,0,0)"}, {"offset": 0.5867, "color": "#000"}, {"offset": 0.6, "color": "#000"},
        {"offset": 0.6, "color": "rgba(0,0,0,0)"}, {"offset": 0.6533, "color": "rgba(0,0,0,0)"}, {"offset": 0.6533, "color": "#000"}, {"offset": 0.6667, "color": "#000"},
        {"offset": 0.6667, "color": "rgba(0,0,0,0)"}, {"offset": 0.72, "color": "rgba(0,0,0,0)"}, {"offset": 0.72, "color": "#000"}, {"offset": 0.7333, "color": "#000"},
        {"offset": 0.7333, "color": "rgba(0,0,0,0)"}, {"offset": 0.7867, "color": "rgba(0,0,0,0)"}, {"offset": 0.7867, "color": "#000"}, {"offset": 0.8, "color": "#000"},
        {"offset": 0.8, "color": "rgba(0,0,0,0)"}, {"offset": 0.8533, "color": "rgba(0,0,0,0)"}, {"offset": 0.8533, "color": "#000"}, {"offset": 0.8667, "color": "#000"},
        {"offset": 0.8667, "color": "rgba(0,0,0,0)"}, {"offset": 0.92, "color": "rgba(0,0,0,0)"}, {"offset": 0.92, "color": "#000"}, {"offset": 0.9333, "color": "#000"},
        {"offset": 0.9333, "color": "rgba(0,0,0,0)"}, {"offset": 0.9867, "color": "rgba(0,0,0,0)"}, {"offset": 0.9867, "color": "#000"}, {"offset": 1, "color": "#000"}
      ]}},
      "hatch": {"color": {"gradient": "linear", "x1": 0, "y1": 0, "x2": 0.6, "y2": 1.2, "stops": [
        {"offset": 0, "color": "rgba(0,0,0,0)"}, {"offset": 0.0364, "color": "rgba(0,0,0,0)"}, {"offset": 0.0364, "color": "#000"}, {"offset": 0.0455, "color": "#000"},
        {"offset": 0.0455, "color": "rgba(0,0,0,0)"}, {"offset": 0.0818, "color": "rgba(0,0,0,0)"}, {"offset": 0.0818, "color": "#000"}, {"offset": 0.0909, "color": "#000"},
        {"offset": 0.0909, "color": "rgba(0,0,0,0)"}, {"offset": 0.1273, "color": "rgba(0,0,0,0)"}, {"offset": 0.1273, "color": "#000"}, {"offset": 0.1364, "color": "#000"},
        {"offset": 0.1364, "color": "rgba(0,0,0,0)"}, {"offset": 0.1727, "color": "rgba(0,0,0,0)"}, {"offset": 0.1727, "color": "#000"}, {"offset": 0.1818, "color": "#000"},
        {"offset": 0.1818, "color": "rgba(0,0,0,0)"}, {"offset": 0.2182, "color": "rgba(0,0,0,0)"}, {"offset": 0.2182, "color": "#000"}, {"offset": 0.2273, "color": "#000"},
        {"offset": 0.2273, "color": "rgba(0,0,0,0)"}, {"offset": 0.2636, "color": "rgba(0,0,0,0)"}, {"offset": 0.2636, "color": "#000"}, {"offset": 0.2727, "color": "#000"},
        {"offset": 0.2727, "color": "rgba(0,0,0,0)"}, {"offset": 0.3091, "color": "rgba(0,0,0,0)"}, {"offset": 0.3091, "color": "#000"}, {"offset": 0.3182, "color": "#000"},
        {"offset": 0.3182, "color": "rgba(0,0,0,0)"}, {"offset": 0.3545, "color": "rgba(0,0,0,0)"}, {"offset": 0.3545, "color": "#000"}, {"offset": 0.3636, "color": "#000"},
        {"offset": 0.3636, "color": "rgba(0,0,0,0)"}, {"offset": 0.4, "color": "rgba(0,0,0,0)"}, {"offset": 0.4, "color": "#000"}, {"offset": 0.4091, "color": "#000"},
        {"offset": 0.4091, "color": "rgba(0,0,0,0)"}, {"offset": 0.4455, "color": "rgba(0,0,0,0)"}, {"offset": 0.4455, "color": "#000"}, {"offset": 0.4545, "color": "#000"},
        {"offset": 0.4545, "color": "rgba(0,0,0,0)"}, {"offset": 0.4909, "color": "rgba(0,0,0,0)"}, {"offset": 0.4909, "color": "#000"}, {"offset": 0.5, "color": "#000"},
        {"offset": 0.5, "color": "rgba(0,0,0,0)"}, {"offset": 0.5364, "color": "rgba(0,0,0,0)"}, {"offset": 0.5364, "color": "#000"}, {"offset": 0.5455, "color": "#000"},
        {"offset": 0.5455, "color": "rgba(0,0,0,0)"}, {"offset": 0.5818, "color": "rgba(0,0,0,0)"}, {"offset": 0.5818, "color": "#000"}, {"offset": 0.5909, "color": "#000"},
        {"offset": 0.5909, "color": "rgba(0,0,0,0)"}, {"offset": 0.6273, "color": "rgba(0,0,0,0)"}, {"offset": 0.6273, "color": "#000"}, {"offset": 0.6364, "color": "#000"},
        {"offset": 0.6364, "color": "rgba(0,0,0,0)"}, {"offset": 0.6727, "color": "rgba(0,0,0,0)"}, {"offset": 0.6727, "color": "#000"}, {"offset": 0.6818, "color": "#000"},
        {"offset": 0.6818, "color": "rgba(0,0,0,0)"}, {"offset": 0.7182, "color": "rgba(0,0,0,0)"}, {"offset": 0.7182, "color": "#000"}, {"offset": 0.7273, "color": "#000"},
        {"offset": 0.7273, "color": "rgba(0,0,0,0)"}, {"offset": 0.7636, "color": "rgba(0,0,0,0)"}, {"offset": 0.7636, "color": "#000"}, {"offset": 0.7727, "color": "#000"},
        {"offset": 0.7727, "color": "rgba(0,0,0,0)"}, {"offset": 0.8091, "color": "rgba(0,0,0,0)"}, {"offset": 0.8091, "color": "#000"}, {"offset": 0.8182, "color": "#000"},
        {"offset": 0.8182, "color": "rgba(0,0,0,0)"}, {"offset": 0.8545, "color": "rgba(0,0,0,0)"}, {"offset": 0.8545, "color": "#000"}, {"offset": 0.8636, "color": "#000"},
        {"offset": 0.8636, "color": "rgba(0,0,0,0)"}, {"offset": 0.9, "color": "rgba(0,0,0,0)"}, {"offset": 0.9, "color": "#000"}, {"offset": 0.9091, "color": "#000"},
        {"offset": 0.9091, "color": "rgba(0,0,0,0)"}, {"offset": 0.9455, "color": "rgba(0,0,0,0)"}, {"offset": 0.9455, "color": "#000"}, {"offset": 0.9545, "color": "#000"},
        {"offset": 0.9545, "color": "rgba(0,0,0,0)"}, {"offset": 0.9909, "color": "rgba(0,0,0,0)"}, {"offset": 0.9909, "color": "#000"}, {"offset": 1, "color": "#000"}
      ]}},
      "crossa": {"color": {"gradient": "linear", "x1": 0, "y1": 0, "x2": 0.6, "y2": 1.2, "stops": [
        {"offset": 0, "color": "rgba(0,0,0,0)"}, {"offset": 0.0268, "color": "rgba(0,0,0,0)"}, {"offset": 0.0268, "color": "#000"}, {"offset": 0.0357, "color": "#000"},
        {"offset": 0.0357, "color": "rgba(0,0,0,0)"}, {"offset": 0.0625, "color": "rgba(0,0,0,0)"}, {"offset": 0.0625, "color": "#000"}, {"offset": 0.0714, "color": "#000"},
        {"offset": 0.0714, "color": "rgba(0,0,0,0)"}, {"offset": 0.0982, "color": "rgba(0,0,0,0)"}, {"offset": 0.0982, "color": "#000"}, {"offset": 0.1071, "color": "#000"},
        {"offset": 0.1071, "color": "rgba(0,0,0,0)"}, {"offset": 0.1339, "color": "rgba(0,0,0,0)"}, {"offset": 0.1339, "color": "#000"}, {"offset": 0.1429, "color": "#000"},
        {"offset": 0.1429, "color": "rgba(0,0,0,0)"}, {"offset": 0.1696, "color": "rgba(0,0,0,0)"}, {"offset": 0.1696, "color": "#000"}, {"offset": 0.1786, "color": "#000"},
        {"offset": 0.1786, "color": "rgba(0,0,0,0)"}, {"offset": 0.2054, "color": "rgba(0,0,0,0)"}, {"offset": 0.2054, "color": "#000"}, {"offset": 0.2143, "color": "#000"},
        {"offset": 0.2143, "color": "rgba(0,0,0,0)"}, {"offset": 0.2411, "color": "rgba(0,0,0,0)"}, {"offset": 0.2411, "color": "#000"}, {"offset": 0.25, "color": "#000"},
        {"offset": 0.25, "color": "rgba(0,0,0,0)"}, {"offset": 0.2768, "color": "rgba(0,0,0,0)"}, {"offset": 0.2768, "color": "#000"}, {"offset": 0.2857, "color": "#000"},
        {"offset": 0.2857, "color": "rgba(0,0,0,0)"}, {"offset": 0.3125, "color": "rgba(0,0,0,0)"}, {"offset": 0.3125, "color": "#000"}, {"offset": 0.3214, "color": "#000"},
        {"offset": 0.3214, "color": "rgba(0,0,0,0)"}, {"offset": 0.3482, "color": "rgba(0,0,0,0)"}, {"offset": 0.3482, "color": "#000"}, {"offset": 0.3571, "color": "#000"},
        {"offset": 0.3571, "color": "rgba(0,0,0,0)"}, {"offset": 0.3839, "color": "rgba(0,0,0,0)"}, {"offset": 0.3839, "color": "#000"}, {"offset": 0.3929, "color": "#000"},
        {"offset": 0.3929, "color": "rgba(0,0,0,0)"}, {"offset": 0.4196, "color": "rgba(0,0,0,0)"}, {"offset": 0.4196, "color": "#000"}, {"offset": 0.4286, "color": "#000"},
        {"offset": 0.4286, "color": "rgba(0,0,0,0)"}, {"offset": 0.4554, "color": "rgba(0,0,0,0)"}, {"offset": 0.4554, "color": "#000"}, {"offset": 0.4643, "color": "#000"},
        {"offset": 0.4643, "color": "rgba(0,0,0,0)"}, {"offset": 0.4911, "color": "rgba(0,0,0,0)"}, {"offset": 0.4911, "color": "#000"}, {"offset": 0.5, "color": "#000"},
        {"offset": 0.5, "color": "rgba(0,0,0,0)"}, {"offset": 0.5268, "color": "rgba(0,0,0,0)"}, {"offset": 0.5268, "color": "#000"}, {"offset": 0.5357, "color": "#000"},
        {"offset": 0.5357, "color": "rgba(0,0,0,0)"}, {"offset": 0.5625, "color": "rgba(0,0,0,0)"}, {"offset": 0.5625, "color": "#000"}, {"offset": 0.5714, "color": "#000"},
        {"offset": 0.5714, "color": "rgba(0,0,0,0)"}, {"offset": 0.5982, "color": "rgba(0,0,0,0)"}, {"offset": 0.5982, "color": "#000"}, {"offset": 0.6071, "color": "#000"},
        {"offset": 0.6071, "color": "rgba(0,0,0,0)"}, {"offset": 0.6339, "color": "rgba(0,0,0,0)"}, {"offset": 0.6339, "color": "#000"}, {"offset": 0.6429, "color": "#000"},
        {"offset": 0.6429, "color": "rgba(0,0,0,0)"}, {"offset": 0.6696, "color": "rgba(0,0,0,0)"}, {"offset": 0.6696, "color": "#000"}, {"offset": 0.6786, "color": "#000"},
        {"offset": 0.6786, "color": "rgba(0,0,0,0)"}, {"offset": 0.7054, "color": "rgba(0,0,0,0)"}, {"offset": 0.7054, "color": "#000"}, {"offset": 0.7143, "color": "#000"},
        {"offset": 0.7143, "color": "rgba(0,0,0,0)"}, {"offset": 0.7411, "color": "rgba(0,0,0,0)"}, {"offset": 0.7411, "color": "#000"}, {"offset": 0.75, "color": "#000"},
        {"offset": 0.75, "color": "rgba(0,0,0,0)"}, {"offset": 0.7768, "color": "rgba(0,0,0,0)"}, {"offset": 0.7768, "color": "#000"}, {"offset": 0.7857, "color": "#000"},
        {"offset": 0.7857, "color": "rgba(0,0,0,0)"}, {"offset": 0.8125, "color": "rgba(0,0,0,0)"}, {"offset": 0.8125, "color": "#000"}, {"offset": 0.8214, "color": "#000"},
        {"offset": 0.8214, "color": "rgba(0,0,0,0)"}, {"offset": 0.8482, "color": "rgba(0,0,0,0)"}, {"offset": 0.8482, "color": "#000"}, {"offset": 0.8571, "color": "#000"},
        {"offset": 0.8571, "color": "rgba(0,0,0,0)"}, {"offset": 0.8839, "color": "rgba(0,0,0,0)"}, {"offset": 0.8839, "color": "#000"}, {"offset": 0.8929, "color": "#000"},
        {"offset": 0.8929, "color": "rgba(0,0,0,0)"}, {"offset": 0.9196, "color": "rgba(0,0,0,0)"}, {"offset": 0.9196, "color": "#000"}, {"offset": 0.9286, "color": "#000"},
        {"offset": 0.9286, "color": "rgba(0,0,0,0)"}, {"offset": 0.9554, "color": "rgba(0,0,0,0)"}, {"offset": 0.9554, "color": "#000"}, {"offset": 0.9643, "color": "#000"},
        {"offset": 0.9643, "color": "rgba(0,0,0,0)"}, {"offset": 0.9911, "color": "rgba(0,0,0,0)"}, {"offset": 0.9911, "color": "#000"}, {"offset": 1, "color": "#000"}
      ]}},
      "crossb": {"color": {"gradient": "linear", "x1": 0, "y1": 1, "x2": 0.6, "y2": -0.2, "stops": [
        {"offset": 0, "color": "rgba(0,0,0,0)"}, {"offset": 0.0268, "color": "rgba(0,0,0,0)"}, {"offset": 0.0268, "color": "#000"}, {"offset": 0.0357, "color": "#000"},
        {"offset": 0.0357, "color": "rgba(0,0,0,0)"}, {"offset": 0.0625, "color": "rgba(0,0,0,0)"}, {"offset": 0.0625, "color": "#000"}, {"offset": 0.0714, "color": "#000"},
        {"offset": 0.0714, "color": "rgba(0,0,0,0)"}, {"offset": 0.0982, "color": "rgba(0,0,0,0)"}, {"offset": 0.0982, "color": "#000"}, {"offset": 0.1071, "color": "#000"},
        {"offset": 0.1071, "color": "rgba(0,0,0,0)"}, {"offset": 0.1339, "color": "rgba(0,0,0,0)"}, {"offset": 0.1339, "color": "#000"}, {"offset": 0.1429, "color": "#000"},
        {"offset": 0.1429, "color": "rgba(0,0,0,0)"}, {"offset": 0.1696, "color": "rgba(0,0,0,0)"}, {"offset": 0.1696, "color": "#000"}, {"offset": 0.1786, "color": "#000"},
        {"offset": 0.1786, "color": "rgba(0,0,0,0)"}, {"offset": 0.2054, "color": "rgba(0,0,0,0)"}, {"offset": 0.2054, "color": "#000"}, {"offset": 0.2143, "color": "#000"},
        {"offset": 0.2143, "color": "rgba(0,0,0,0)"}, {"offset": 0.2411, "color": "rgba(0,0,0,0)"}, {"offset": 0.2411, "color": "#000"}, {"offset": 0.25, "color": "#000"},
        {"offset": 0.25, "color": "rgba(0,0,0,0)"}, {"offset": 0.2768, "color": "rgba(0,0,0,0)"}, {"offset": 0.2768, "color": "#000"}, {"offset": 0.2857, "color": "#000"},
        {"offset": 0.2857, "color": "rgba(0,0,0,0)"}, {"offset": 0.3125, "color": "rgba(0,0,0,0)"}, {"offset": 0.3125, "color": "#000"}, {"offset": 0.3214, "color": "#000"},
        {"offset": 0.3214, "color": "rgba(0,0,0,0)"}, {"offset": 0.3482, "color": "rgba(0,0,0,0)"}, {"offset": 0.3482, "color": "#000"}, {"offset": 0.3571, "color": "#000"},
        {"offset": 0.3571, "color": "rgba(0,0,0,0)"}, {"offset": 0.3839, "color": "rgba(0,0,0,0)"}, {"offset": 0.3839, "color": "#000"}, {"offset": 0.3929, "color": "#000"},
        {"offset": 0.3929, "color": "rgba(0,0,0,0)"}, {"offset": 0.4196, "color": "rgba(0,0,0,0)"}, {"offset": 0.4196, "color": "#000"}, {"offset": 0.4286, "color": "#000"},
        {"offset": 0.4286, "color": "rgba(0,0,0,0)"}, {"offset": 0.4554, "color": "rgba(0,0,0,0)"}, {"offset": 0.4554, "color": "#000"}, {"offset": 0.4643, "color": "#000"},
        {"offset": 0.4643, "color": "rgba(0,0,0,0)"}, {"offset": 0.4911, "color": "rgba(0,0,0,0)"}, {"offset": 0.4911, "color": "#000"}, {"offset": 0.5, "color": "#000"},
        {"offset": 0.5, "color": "rgba(0,0,0,0)"}, {"offset": 0.5268, "color": "rgba(0,0,0,0)"}, {"offset": 0.5268, "color": "#000"}, {"offset": 0.5357, "color": "#000"},
        {"offset": 0.5357, "color": "rgba(0,0,0,0)"}, {"offset": 0.5625, "color": "rgba(0,0,0,0)"}, {"offset": 0.5625, "color": "#000"}, {"offset": 0.5714, "color": "#000"},
        {"offset": 0.5714, "color": "rgba(0,0,0,0)"}, {"offset": 0.5982, "color": "rgba(0,0,0,0)"}, {"offset": 0.5982, "color": "#000"}, {"offset": 0.6071, "color": "#000"},
        {"offset": 0.6071, "color": "rgba(0,0,0,0)"}, {"offset": 0.6339, "color": "rgba(0,0,0,0)"}, {"offset": 0.6339, "color": "#000"}, {"offset": 0.6429, "color": "#000"},
        {"offset": 0.6429, "color": "rgba(0,0,0,0)"}, {"offset": 0.6696, "color": "rgba(0,0,0,0)"}, {"offset": 0.6696, "color": "#000"}, {"offset": 0.6786, "color": "#000"},
        {"offset": 0.6786, "color": "rgba(0,0,0,0)"}, {"offset": 0.7054, "color": "rgba(0,0,0,0)"}, {"offset": 0.7054, "color": "#000"}, {"offset": 0.7143, "color": "#000"},
        {"offset": 0.7143, "color": "rgba(0,0,0,0)"}, {"offset": 0.7411, "color": "rgba(0,0,0,0)"}, {"offset": 0.7411, "color": "#000"}, {"offset": 0.75, "color": "#000"},
        {"offset": 0.75, "color": "rgba(0,0,0,0)"}, {"offset": 0.7768, "color": "rgba(0,0,0,0)"}, {"offset": 0.7768, "color": "#000"}, {"offset": 0.7857, "color": "#000"},
        {"offset": 0.7857, "color": "rgba(0,0,0,0)"}, {"offset": 0.8125, "color": "rgba(0,0,0,0)"}, {"offset": 0.8125, "color": "#000"}, {"offset": 0.8214, "color": "#000"},
        {"offset": 0.8214, "color": "rgba(0,0,0,0)"}, {"offset": 0.8482, "color": "rgba(0,0,0,0)"}, {"offset": 0.8482, "color": "#000"}, {"offset": 0.8571, "color": "#000"},
        {"offset": 0.8571, "color": "rgba(0,0,0,0)"}, {"offset": 0.8839, "color": "rgba(0,0,0,0)"}, {"offset": 0.8839, "color": "#000"}, {"offset": 0.8929, "color": "#000"},
        {"offset": 0.8929, "color": "rgba(0,0,0,0)"}, {"offset": 0.9196, "color": "rgba(0,0,0,0)"}, {"offset": 0.9196, "color": "#000"}, {"offset": 0.9286, "color": "#000"},
        {"offset": 0.9286, "color": "rgba(0,0,0,0)"}, {"offset": 0.9554, "color": "rgba(0,0,0,0)"}, {"offset": 0.9554, "color": "#000"}, {"offset": 0.9643, "color": "#000"},
        {"offset": 0.9643, "color": "rgba(0,0,0,0)"}, {"offset": 0.9911, "color": "rgba(0,0,0,0)"}, {"offset": 0.9911, "color": "#000"}, {"offset": 1, "color": "#000"}
      ]}}
    }
  }
}
